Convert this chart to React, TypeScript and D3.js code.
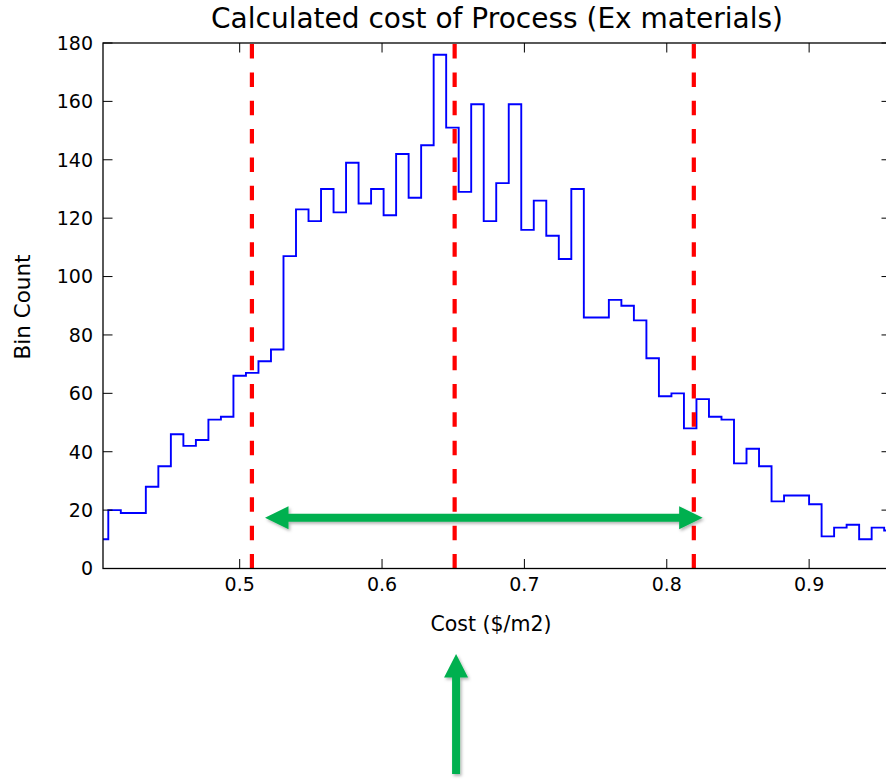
import React from "react";
import * as d3 from "d3";

// Histogram of calculated process cost
const binStart = 0.39893;
const binWidth = 0.00879;
const binCounts = [
  10, 20, 19, 19, 28, 35, 46, 42, 44, 51, 52, 66, 67, 71, 75, 107, 123, 119, 130,
  122, 139, 125, 130, 121, 142, 127, 145, 176, 151, 129, 159, 119, 132, 159, 116,
  126, 114, 106, 130, 86, 86, 92, 90, 85, 72, 59, 60, 48, 58, 52, 51, 36, 41, 35,
  23, 25, 25, 22, 11, 14, 15, 10, 14, 13,
];

// Lower bound, median and upper bound markers
const markers = [0.5086, 0.651, 0.819];

// Range arrow between the bounds, and the pointer to the median
const rangeArrowFrom = 0.5178;
const rangeArrowTo = 0.8252;
const rangeArrowLevel = 17.4;
const medianValue = 0.652;

const xDomain = [0.404, 0.9575];
const yDomain = [0, 180];
const xTicks = [0.5, 0.6, 0.7, 0.8, 0.9];
const yTicks = [0, 20, 40, 60, 80, 100, 120, 140, 160, 180];

const title = "Calculated cost of Process (Ex materials)";
const xLabel = "Cost ($/m2)";
const yLabel = "Bin Count";

const W = 886;
const H = 780;
const plot = { left: 103, right: 891, top: 43, bottom: 568.5 };
const font = "'DejaVu Sans', 'Bitstream Vera Sans', sans-serif";
const GREEN = "#00b050";

export default function App() {
  const x = d3.scaleLinear().domain(xDomain).range([plot.left, plot.right]);
  const y = d3.scaleLinear().domain(yDomain).range([plot.bottom, plot.top]);

  const edges = binCounts.map((_, i) => binStart + i * binWidth);
  const pts: [number, number][] = [[edges[0], 0]];
  binCounts.forEach((c, i) => pts.push([edges[i], c]));
  const lastEdge = binStart + binCounts.length * binWidth;
  pts.push([lastEdge, binCounts[binCounts.length - 1]]);
  pts.push([lastEdge, 0]);
  const stepPath = d3
    .line<[number, number]>()
    .x((d) => x(d[0]))
    .y((d) => y(d[1]))
    .curve(d3.curveStepAfter)(pts) as string;

  const tickLen = 9.5;

  // double-headed horizontal arrow
  const ay = y(rangeArrowLevel);
  const ax0 = x(rangeArrowFrom);
  const ax1 = x(rangeArrowTo);
  const shaft = 4;
  const headL = 23.5;
  const headW = 11.5;
  const hArrow = [
    [ax0, ay],
    [ax0 + headL, ay - headW],
    [ax0 + headL, ay - shaft],
    [ax1 - headL, ay - shaft],
    [ax1 - headL, ay - headW],
    [ax1, ay],
    [ax1 - headL, ay + headW],
    [ax1 - headL, ay + shaft],
    [ax0 + headL, ay + shaft],
    [ax0 + headL, ay + headW],
  ];

  // vertical arrow under the axis pointing at the median
  const vx = x(medianValue);
  const vTip = 654;
  const vBase = 774;
  const vArrow = [
    [vx, vTip],
    [vx + headW + 0.5, vTip + headL],
    [vx + shaft, vTip + headL],
    [vx + shaft, vBase],
    [vx - shaft, vBase],
    [vx - shaft, vTip + headL],
    [vx - headW - 0.5, vTip + headL],
  ];
  const poly = (p: number[][]) => "M" + p.map((q) => q.join(",")).join("L") + "Z";

  return (
    <svg
      width={W}
      height={H}
      style={{ position: "absolute", left: 0, top: 0, background: "#fff" }}
      fontFamily={font}
    >
      <defs>
        <clipPath id="plotClip">
          <rect x={plot.left} y={plot.top} width={plot.right - plot.left} height={plot.bottom - plot.top} />
        </clipPath>
        <filter id="arrowShadow" x="-20%" y="-20%" width="140%" height="140%">
          <feDropShadow dx="1.5" dy="2" stdDeviation="1.5" floodColor="#000" floodOpacity="0.3" />
        </filter>
      </defs>
      <rect x={0} y={0} width={W} height={H} fill="#fff" />

      <g clipPath="url(#plotClip)">
        <path d={stepPath} fill="none" stroke="#0000ff" strokeWidth={1.9} strokeLinejoin="miter" />
        {markers.map((m, i) => (
          <line
            key={i}
            x1={x(m)}
            x2={x(m)}
            y1={plot.bottom}
            y2={plot.top}
            stroke="#ff0000"
            strokeWidth={4.2}
            strokeDasharray="14.5 13.83"
          />
        ))}
      </g>

      {/* frame */}
      <rect
        x={plot.left}
        y={plot.top}
        width={plot.right - plot.left}
        height={plot.bottom - plot.top}
        fill="none"
        stroke="#000"
        strokeWidth={1.3}
      />

      {/* y ticks on both sides */}
      {yTicks.map((t) => (
        <g key={"y" + t}>
          <line x1={plot.left} x2={plot.left + tickLen} y1={y(t)} y2={y(t)} stroke="#000" strokeWidth={1} />
          <line x1={plot.right} x2={plot.right - tickLen} y1={y(t)} y2={y(t)} stroke="#000" strokeWidth={1} />
          <text x={plot.left - 10} y={y(t)} dy="0.36em" textAnchor="end" fontSize={19} fill="#000">
            {t}
          </text>
        </g>
      ))}

      {/* x ticks on top and bottom */}
      {xTicks.map((t) => (
        <g key={"x" + t}>
          <line x1={x(t)} x2={x(t)} y1={plot.bottom} y2={plot.bottom - tickLen} stroke="#000" strokeWidth={1} />
          <line x1={x(t)} x2={x(t)} y1={plot.top} y2={plot.top + tickLen} stroke="#000" strokeWidth={1} />
          <text x={x(t)} y={plot.bottom + 22} textAnchor="middle" fontSize={19} fill="#000">
            {d3.format(".1f")(t)}
          </text>
        </g>
      ))}

      <text x={497} y={28} textAnchor="middle" fontSize={28} fill="#000">
        {title}
      </text>
      <text x={491} y={631} textAnchor="middle" fontSize={20.5} fill="#000">
        {xLabel}
      </text>
      <text
        transform={`translate(30, 307) rotate(-90)`}
        textAnchor="middle"
        fontSize={21.5}
        fill="#000"
      >
        {yLabel}
      </text>

      <g filter="url(#arrowShadow)">
        <path d={poly(hArrow)} fill={GREEN} />
        <path d={poly(vArrow)} fill={GREEN} />
      </g>
    </svg>
  );
}
